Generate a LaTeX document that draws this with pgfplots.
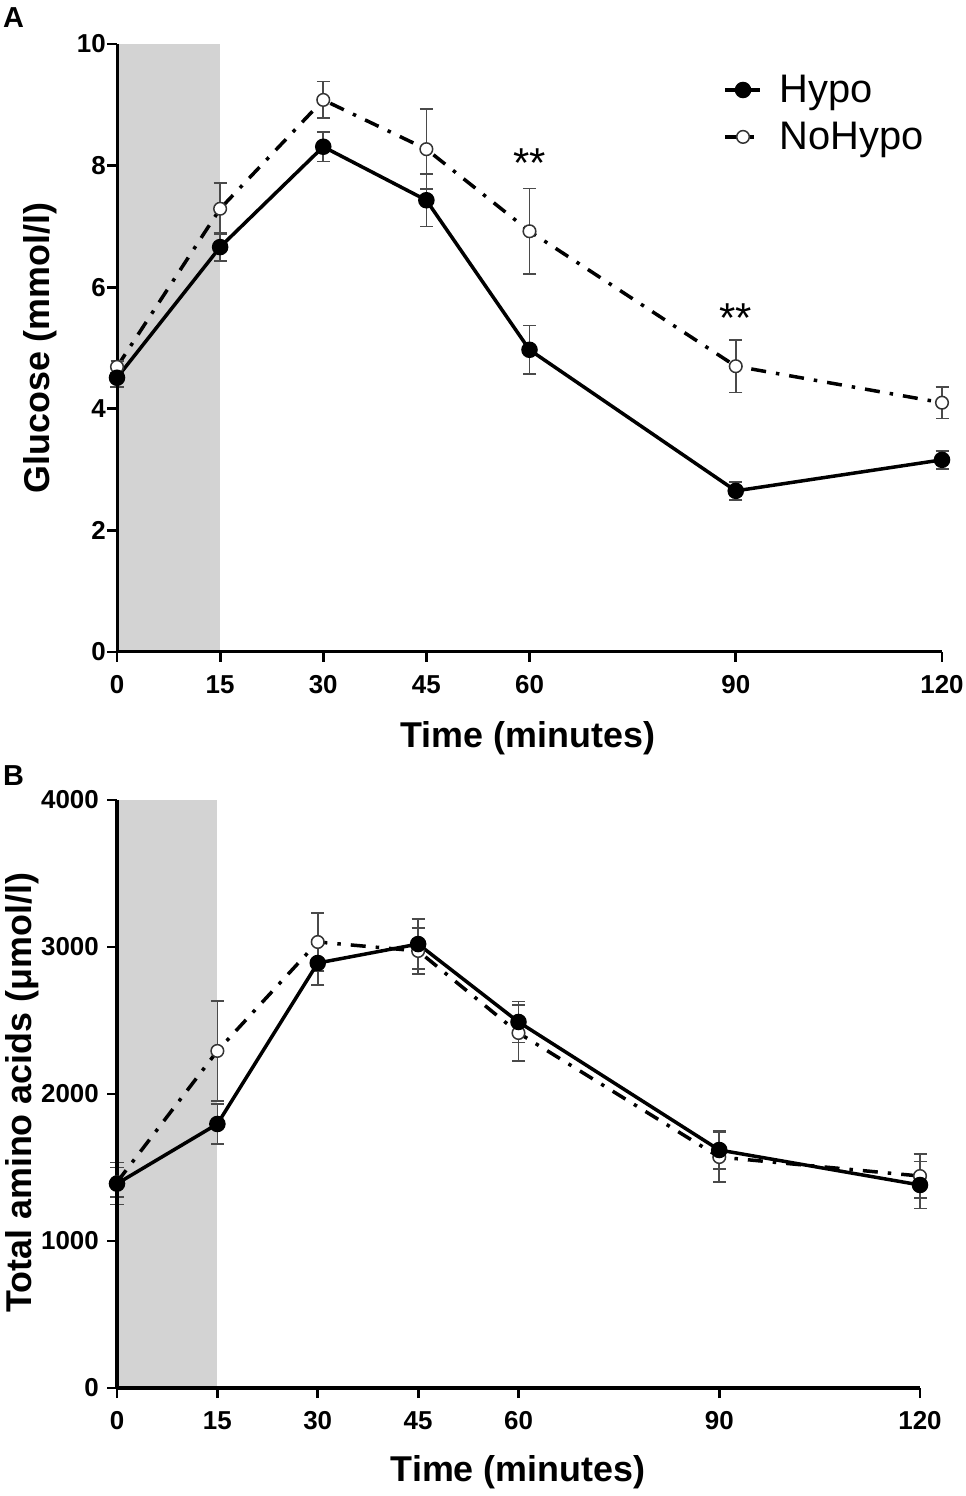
\documentclass[border=0pt]{standalone}
\usepackage{fontspec}
\setmainfont{Liberation Sans}
\usepackage{pgfplots}
\pgfplotsset{compat=1.18}
\usepackage{pgfplotstable}
\definecolor{band}{HTML}{D3D3D3}
\definecolor{errc}{HTML}{4A4A4A}

\pgfplotstableread{
t m e
0 4.51 0.15
15 6.66 0.23
30 8.31 0.24
45 7.43 0.43
60 4.97 0.40
90 2.65 0.15
120 3.16 0.15
}\hypoA
\pgfplotstableread{
t m e
0 4.69 0.10
15 7.29 0.42
30 9.08 0.30
45 8.27 0.66
60 6.92 0.70
90 4.70 0.43
120 4.10 0.26
}\nohypoA
\pgfplotstableread{
t m e
0 1390 143
15 1796 136
30 2891 150
45 3020 170
60 2490 140
90 1619 130
120 1381 160
}\hypoB
\pgfplotstableread{
t m e
0 1400 100
15 2293 340
30 3034 197
45 2973 155
60 2415 190
90 1571 170
120 1442 150
}\nohypoB

\pgfplotsset{
  myaxis/.style={
    scale only axis, axis on top,
    axis lines=left,
    axis line style={-, line width=3bp, black},
    every inner x axis line/.append style={line width=3bp},
    every inner y axis line/.append style={line width=3bp},
    every outer x axis line/.append style={line width=3bp},
    every outer y axis line/.append style={line width=3bp},
    xmin=0, xmax=120, xtick={0,15,30,45,60,90,120},
    tick align=outside, major tick length=10bp,
    major tick style={line width=2.8bp, black},
    ticklabel style={font=\bfseries\fontsize{26}{26}\selectfont, inner sep=1bp},
    xticklabel style={yshift=-12bp},
    /pgf/number format/assume math mode=true,
    label style={font=\bfseries\fontsize{36}{40}\selectfont},
    clip=false,
  },
  hypo/.style={black, solid, line width=3.5bp, mark=*, mark size=6.5bp,
    mark options={solid, fill=black},
    error bars/.cd, y dir=both, y explicit,
    error bar style={line width=1.6bp, color=errc, solid},
    error mark=-,
    error mark options={rotate=90, mark size=6.5bp, line width=1.6bp, color=errc, solid}},
  nohypo/.style={black, line width=3.5bp, dash pattern=on 15bp off 10bp on 3.5bp off 10bp,
    mark=*, mark size=6.3bp,
    mark options={solid, fill=white, draw=black!80, line width=1.5bp},
    error bars/.cd, y dir=both, y explicit,
    error bar style={line width=1.6bp, color=errc, solid},
    error mark=-,
    error mark options={rotate=90, mark size=6.5bp, line width=1.6bp, color=errc, solid}},
}

\begin{document}
\begin{tikzpicture}
\useasboundingbox (0bp,0bp) rectangle (966bp,1496bp);
\node[anchor=north west, inner sep=0, font=\bfseries\fontsize{29}{29}\selectfont] at (3bp,1489bp) {A};
\node[anchor=north west, inner sep=0, font=\bfseries\fontsize{29}{29}\selectfont] at (3bp,731bp) {B};

\begin{axis}[myaxis,
  at={(117bp,844bp)}, anchor=south west,
  width=825bp, height=608bp,
  ymin=0, ymax=10, ytick={0,2,4,6,8,10},
  xlabel={Time (minutes)}, ylabel={Glucose (mmol/l)},
  xlabel style={at={(axis description cs:0.498,0)}, anchor=center, yshift=-86bp},
  ylabel style={at={(axis description cs:-0.0933,0.5)}, anchor=center},
  reverse legend,
  legend style={draw=none, fill=none, at={(0.731,0.955)}, anchor=north west,
    font=\fontsize{40}{44}\selectfont, row sep=14bp,
    nodes={inner sep=2bp}},
  legend cell align=left,
  legend image code/.code={\draw[mark repeat=2,mark phase=2,#1] plot coordinates {(0bp,0bp) (18bp,0bp) (35bp,0bp)};},
  legend style={/tikz/every odd column/.append style={column sep=16bp}},
]
\addplot[fill=band, draw=none, forget plot] coordinates {(0,10) (15,10)} \closedcycle;
\addplot[nohypo] table[x=t, y=m, y error=e] {\nohypoA};
\addlegendentry{NoHypo}
\addplot[hypo] table[x=t, y=m, y error=e] {\hypoA};
\addlegendentry{Hypo}
\node[font=\fontsize{42}{42}\selectfont, anchor=base] at (axis cs:60,7.80) {**};
\node[font=\fontsize{42}{42}\selectfont, anchor=base] at (axis cs:90,5.26) {**};
\end{axis}

\begin{axis}[myaxis,
  at={(117bp,108bp)}, anchor=south west,
  width=803bp, height=588bp,
  ymin=0, ymax=4000, ytick={0,1000,2000,3000,4000},
  yticklabel style={xshift=-7bp},
  scaled y ticks=false,
  yticklabel={\pgfmathprintnumber[fixed, 1000 sep={}]{\tick}},
  xlabel={Time (minutes)}, ylabel={Total amino acids (μmol/l)},
  xlabel style={at={(axis description cs:0.4994,0)}, anchor=center, yshift=-84bp},
  ylabel style={at={(axis description cs:-0.1183,0.502)}, anchor=center},
]
\addplot[fill=band, draw=none, forget plot] coordinates {(0,4000) (15,4000)} \closedcycle;
\addplot[nohypo] table[x=t, y=m, y error=e] {\nohypoB};
\addplot[hypo] table[x=t, y=m, y error=e] {\hypoB};
\end{axis}
\end{tikzpicture}
\end{document}
